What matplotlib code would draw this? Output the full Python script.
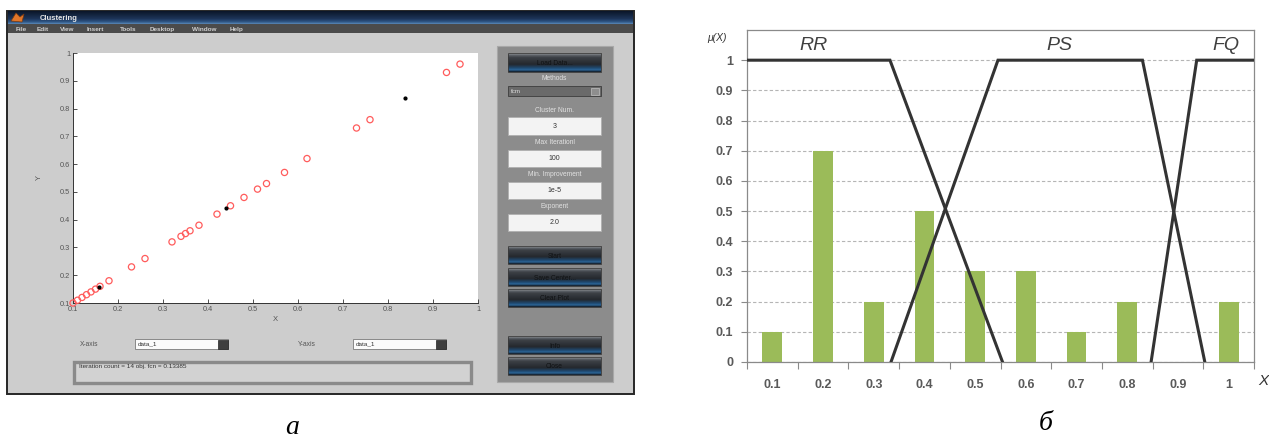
from __future__ import annotations

import matplotlib

matplotlib.use("Agg")
import matplotlib.pyplot as plt
import numpy as np
from matplotlib.colors import LinearSegmentedColormap
from matplotlib.patches import Polygon, Rectangle

W, H = 1269, 443

# --- left: MATLAB "Clustering" window (data_1 plotted against itself) ---
DATA_1 = [0.10, 0.11, 0.12, 0.13, 0.14, 0.15, 0.16, 0.18, 0.23, 0.26,
          0.32, 0.34, 0.35, 0.36, 0.38, 0.42, 0.45, 0.48, 0.51, 0.53,
          0.57, 0.62, 0.73, 0.76, 0.93, 0.96]
CENTERS_X = [0.157, 0.441, 0.837]
CENTERS_Y = [0.159, 0.443, 0.838]
SCATTER_TICKS = [0.1, 0.2, 0.3, 0.4, 0.5, 0.6, 0.7, 0.8, 0.9, 1.0]
SCATTER_TICK_LABELS = ["0.1", "0.2", "0.3", "0.4", "0.5", "0.6", "0.7", "0.8", "0.9", "1"]

MENU_ITEMS = ["File", "Edit", "View", "Insert", "Tools", "Desktop", "Window", "Help"]
PANEL_FIELDS = [("Cluster Num.", "3"), ("Max Iterationl", "100"),
                ("Min. Improvement", "1e-5"), ("Exponent", "2.0")]
BUTTONS_TOP = ["Start", "Save Center...", "Clear Plot"]
BUTTONS_BOTTOM = ["Info", "Close"]
STATUS_TEXT = "Iteration count = 14 obj. fcn = 0.13385"

# --- right: membership functions over the histogram ---
CATEGORIES = [0.1, 0.2, 0.3, 0.4, 0.5, 0.6, 0.7, 0.8, 0.9, 1.0]
CAT_LABELS = ["0.1", "0.2", "0.3", "0.4", "0.5", "0.6", "0.7", "0.8", "0.9", "1"]
MU_VALUES = [0.1, 0.7, 0.2, 0.5, 0.3, 0.3, 0.1, 0.2, 0.0, 0.2]
Y_TICKS = [0, 0.1, 0.2, 0.3, 0.4, 0.5, 0.6, 0.7, 0.8, 0.9, 1.0]
Y_TICK_LABELS = ["0", "0.1", "0.2", "0.3", "0.4", "0.5", "0.6", "0.7", "0.8", "0.9", "1"]
RR_X = [0.05, 0.332, 0.554]
RR_Y = [1, 1, 0]
PS_X = [0.334, 0.545, 0.830, 0.953]
PS_Y = [0, 1, 1, 0]
FQ_X = [0.847, 0.937, 1.05]
FQ_Y = [0, 1, 1]
TERMS = ["RR", "PS", "FQ"]
TERM_X = [0.182, 0.667, 0.995]

GUI_FONT = "Liberation Sans"

BUTTON_CMAP = LinearSegmentedColormap.from_list(
    "btn",
    [(0.0, "#b4b4b4"), (0.08, "#63686e"), (0.22, "#3c4046"), (0.6, "#24282d"),
     (0.8, "#1f4a72"), (0.9, "#2c6699"), (1.0, "#141c26")],
)
TITLE_CMAP = LinearSegmentedColormap.from_list(
    "title", [(0.0, "#0b1629"), (0.6, "#1d3458"), (0.85, "#2f5888"), (1.0, "#5a86b5")]
)


def frac_rect(x0, y0, x1, y1):
    return [x0 / W, 1 - y1 / H, (x1 - x0) / W, (y1 - y0) / H]


def rect(bg, x0, y0, x1, y1, **kw):
    bg.add_patch(Rectangle((x0, y0), x1 - x0, y1 - y0, **kw))


def gradient(bg, x0, y0, x1, y1, cmap):
    g = np.linspace(0, 1, 40).reshape(-1, 1)
    bg.imshow(g, cmap=cmap, extent=(x0, x1, y1, y0), aspect="auto",
              interpolation="bilinear", zorder=2)


def button(bg, x0, y0, x1, y1, label):
    gradient(bg, x0, y0, x1, y1, BUTTON_CMAP)
    rect(bg, x0, y0, x1, y1, fill=False, ec="#3a3a3a", lw=0.6, zorder=3)
    bg.text((x0 + x1) / 2, (y0 + y1) / 2 + 1, label, ha="center", va="center",
            fontsize=4.8, color="#101214", family=GUI_FONT, zorder=4)


def draw_window(bg):
    # window body and frame
    rect(bg, 7, 11, 634, 394, fc="#cdcdcd", ec="#262626", lw=1.4, zorder=1)
    gradient(bg, 8, 11, 633, 24, TITLE_CMAP)
    rect(bg, 8, 24, 633, 33, fc="#4b4b4b", ec="none", zorder=2)
    bg.add_patch(Polygon([[11, 21], [16, 13], [20, 17], [24, 14], [22, 22]],
                         closed=True, fc="#e0762a", ec="#7a3a10", lw=0.5, zorder=3))
    bg.text(40, 18, "Clustering", fontsize=5.5, fontweight="bold", color="#e6e6e6",
            va="center", family=GUI_FONT, zorder=4)
    menu_x = [16, 37, 60, 87, 120, 150, 192, 230]
    for name, mx in zip(MENU_ITEMS, menu_x):
        bg.text(mx, 29, name, fontsize=4.6, fontweight="bold", color="#cfcfcf",
                va="center", family=GUI_FONT, zorder=4)

    # control panel on the right
    rect(bg, 497, 46, 613, 382, fc="#8c8c8c", ec="#a8a8a8", lw=0.8, zorder=2)
    button(bg, 508, 53, 601, 72, "Load Data...")
    bg.text(554.5, 78, "Methods", fontsize=4.8, color="#e2e2e2", ha="center",
            va="center", family=GUI_FONT, zorder=4)
    rect(bg, 508, 86, 601, 96, fc="#6a6a6a", ec="#3c3c3c", lw=0.6, zorder=3)
    rect(bg, 591, 87.5, 599, 94.5, fc="#8e8e8e", ec="#c0c0c0", lw=0.5, zorder=4)
    bg.text(511, 91, "fcm", fontsize=4.5, color="#dcdcdc", va="center",
            family=GUI_FONT, zorder=4)
    label_y = [110, 142, 174, 206]
    box_y = [(117, 135), (150, 167), (182, 199), (214, 231)]
    for (lab, val), ly, (b0, b1) in zip(PANEL_FIELDS, label_y, box_y):
        bg.text(554.5, ly, lab, fontsize=4.8, color="#e2e2e2", ha="center",
                va="center", family=GUI_FONT, zorder=4)
        rect(bg, 508, b0, 601, b1, fc="#f3f3f3", ec="#b0b0b0", lw=0.6, zorder=3)
        bg.text(554.5, (b0 + b1) / 2, val, fontsize=5, color="#333333", ha="center",
                va="center", family=GUI_FONT, zorder=4)
    for lab, (b0, b1) in zip(BUTTONS_TOP, [(246, 264), (268, 286), (289, 307)]):
        button(bg, 508, b0, 601, b1, lab)
    for lab, (b0, b1) in zip(BUTTONS_BOTTOM, [(336, 354), (357, 375)]):
        button(bg, 508, b0, 601, b1, lab)

    # axis selectors and status box
    for lab, lx, d0, d1 in [("X-axis", 80, 135, 228), ("Y-axis", 298, 353, 446)]:
        bg.text(lx, 344, lab, fontsize=4.8, color="#555555", va="center",
                family=GUI_FONT, zorder=4)
        rect(bg, d0, 339, d1, 349, fc="#fbfbfb", ec="#7a7a7a", lw=0.6, zorder=3)
        rect(bg, d1 - 10, 339.5, d1, 348.5, fc="#3e3e3e", ec="#222222", lw=0.5, zorder=4)
        bg.text(d0 + 3, 344, "data_1", fontsize=4.6, color="#333333", va="center",
                family=GUI_FONT, zorder=4)
    rect(bg, 74, 362, 471, 383, fc="#d2d2d2", ec="#8a8a8a", lw=2.4, zorder=3)
    bg.text(79, 366.5, STATUS_TEXT, fontsize=4.6, color="#333333", va="center",
            family=GUI_FONT, zorder=4)


def draw_scatter(fig):
    ax = fig.add_axes(frac_rect(73, 53, 478, 303))
    ax.set_facecolor("white")
    ax.scatter(DATA_1, DATA_1, s=20, facecolors="none", edgecolors="#ff5c5c",
               linewidths=0.9, clip_on=False, zorder=3)
    ax.plot(CENTERS_X, CENTERS_Y, ".", color="black", ms=4, zorder=4)
    ax.set_xlim(0.1, 1)
    ax.set_ylim(0.1, 1)
    ax.set_xticks(SCATTER_TICKS, SCATTER_TICK_LABELS)
    ax.set_yticks(SCATTER_TICKS, SCATTER_TICK_LABELS)
    ax.tick_params(direction="in", length=3, width=0.6, color="#333333",
                   labelsize=5.3, labelcolor="#555555", pad=2)
    for s in ("top", "right"):
        ax.spines[s].set_visible(False)
    for s in ("left", "bottom"):
        ax.spines[s].set_color("#333333")
        ax.spines[s].set_linewidth(0.7)
    ax.set_xlabel("X", fontsize=5.5, color="#555555", labelpad=2, family=GUI_FONT)
    ax.set_ylabel("Y", fontsize=5.5, color="#555555", labelpad=12, family=GUI_FONT)
    for lab in ax.get_xticklabels() + ax.get_yticklabels():
        lab.set_family(GUI_FONT)


def draw_membership(fig, bg):
    ax = fig.add_axes(frac_rect(747, 30, 1254, 362))
    ax.set_axisbelow(True)
    ax.bar(CATEGORIES, MU_VALUES, width=0.039, color="#9bbb59", zorder=2)
    for xs, ys in [(RR_X, RR_Y), (PS_X, PS_Y), (FQ_X, FQ_Y)]:
        ax.plot(xs, ys, color="#333333", lw=2.2, solid_joinstyle="miter", zorder=3)
    for term, tx in zip(TERMS, TERM_X):
        ax.text(tx, 1.05, term, fontsize=14, style="italic", color="#404040",
                ha="center", va="center", family="Liberation Sans")
    ax.set_xlim(0.05, 1.05)
    ax.set_ylim(0, 1.1)
    ax.set_xticks(CATEGORIES, CAT_LABELS)
    ax.set_xticks(np.arange(0.05, 1.06, 0.1), minor=True)
    ax.set_yticks(Y_TICKS, Y_TICK_LABELS)
    ax.yaxis.grid(True, linestyle=(0, (3, 2)), color="#b5b5b5", lw=0.8)
    ax.tick_params(axis="x", which="major", length=0, pad=12)
    ax.tick_params(axis="x", which="minor", length=5, width=0.8, color="#8a8a8a")
    ax.tick_params(axis="y", length=4, width=0.8, color="#8a8a8a", pad=6)
    for lab in ax.get_xticklabels() + ax.get_yticklabels():
        lab.set_fontweight("bold")
        lab.set_fontsize(9)
        lab.set_color("#595959")
        lab.set_family("Liberation Sans")
    for s in ax.spines.values():
        s.set_color("#8a8a8a")
        s.set_linewidth(0.9)
    bg.text(717, 38, "μ(X)", fontsize=7.5, style="italic", color="#333333",
            ha="center", va="center", family="Liberation Sans")
    bg.text(1263, 381, "X", fontsize=11, style="italic", color="#333333",
            ha="center", va="center", family="Liberation Sans")


def main() -> None:
    fig = plt.figure(figsize=(W / 100, H / 100), dpi=100)
    fig.patch.set_facecolor("white")
    bg = fig.add_axes([0, 0, 1, 1])
    draw_window(bg)
    bg.text(292, 427, "а", fontsize=20, style="italic", family="Liberation Serif",
            ha="center", va="center")
    bg.text(1046, 423, "б", fontsize=20, style="italic", family="Liberation Serif",
            ha="center", va="center")
    bg.set_xlim(0, W)
    bg.set_ylim(H, 0)
    bg.axis("off")

    draw_scatter(fig)
    draw_membership(fig, bg)

    fig.savefig("out.png", dpi=100)
    plt.close(fig)


if __name__ == "__main__":
    main()
